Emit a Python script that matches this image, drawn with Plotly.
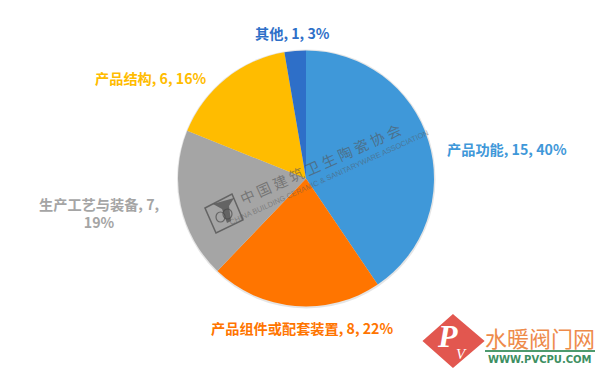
import plotly.graph_objects as go

categories = ["产品功能", "产品组件或配套装置", "生产工艺与装备", "产品结构", "其他"]
values = [15, 8, 7, 6, 1]
percents = [40, 22, 19, 16, 3]
colors = ["#3F98D9", "#FF7500", "#A5A5A5", "#FFBC00", "#2E6FC8"]

W, H = 600, 372
FONT = "Noto Sans CJK SC"

def px(x): return x / W
def py(y): return 1 - y / H

labels = [f"{c}, {v}, {p}%" for c, v, p in zip(categories, values, percents)]
labels[2] = f"{categories[2]}, {values[2]},<br>{percents[2]}%"
label_pos = [(507, 149), (302, 328), (98.5, 213), (151, 78), (292, 33)]

fig = go.Figure(go.Pie(
    labels=categories, values=values, sort=False, direction="clockwise", rotation=0,
    marker=dict(colors=colors, line=dict(width=0)),
    textinfo="none", hoverinfo="label+value+percent", showlegend=False,
    domain=dict(x=[px(178), px(434)], y=[py(307), py(50)]),
))

ann = []
for t, (x, y), c in zip(labels, label_pos, colors):
    ann.append(dict(text=f"<b>{t}</b>", x=px(x), y=py(y), xref="paper", yref="paper", showarrow=False,
                    font=dict(family=FONT, size=14.2, color=c), align="center", xanchor="center", yanchor="middle"))

# watermark
wm = "rgba(70,70,70,0.68)"
ann.append(dict(text="中 国 建 筑 卫 生 陶 瓷 协 会", x=px(320), y=py(163), xref="paper", yref="paper", showarrow=False,
                textangle=-24, font=dict(family=FONT, size=14.5, color="rgba(85,85,85,0.6)"), xanchor="center", yanchor="middle"))
ann.append(dict(text="CHINA BUILDING CERAMIC &amp; SANITARYWARE ASSOCIATION", x=px(329), y=py(177), xref="paper", yref="paper", showarrow=False,
                textangle=-24.5, font=dict(family="Liberation Sans", size=7.5, color="rgba(85,85,85,0.5)"), xanchor="center", yanchor="middle"))

# bottom-right site logo text
ann.append(dict(text="水暖阀门网", x=px(540), y=py(337), xref="paper", yref="paper", showarrow=False,
                font=dict(family=FONT, size=22, color="#EE8B4B"), xanchor="center", yanchor="middle"))
ann.append(dict(text="<b>WWW.PVCPU.COM</b>", x=px(540), y=py(359), xref="paper", yref="paper", showarrow=False,
                font=dict(family="DejaVu Sans", size=10, color="#3E8F62"), xanchor="center", yanchor="middle"))
ann.append(dict(text="<i><b>P</b></i>", x=px(447), y=py(336), xref="paper", yref="paper", showarrow=False,
                font=dict(family="Liberation Serif", size=32, color="white"), xanchor="center", yanchor="middle"))
ann.append(dict(text="<i>V</i>", x=px(461), y=py(354), xref="paper", yref="paper", showarrow=False,
                font=dict(family="Liberation Serif", size=15, color="white"), xanchor="center", yanchor="middle"))

def path(points):
    return "M " + " L ".join(f"{px(x)} {py(y)}" for x, y in points) + " Z"

shapes = [
    # soft rim round the pie
    dict(type="circle", xref="paper", yref="paper", layer="below",
         x0=px(177), x1=px(435.5), y0=py(308.5), y1=py(49.5), line=dict(width=0), fillcolor="rgba(0,0,0,0.10)"),
    # red rounded diamond
    dict(type="path", xref="paper", yref="paper", line=dict(color="#E2574F", width=6), fillcolor="#E2574F",
         path=path([(453, 318), (480, 341), (453, 364), (427, 341)])),
    # green rule under logo text
    dict(type="rect", xref="paper", yref="paper", x0=px(485), x1=px(595), y0=py(352), y1=py(350),
         line=dict(width=0), fillcolor="#4E9A6E"),
    # watermark emblem
    dict(type="path", xref="paper", yref="paper", line=dict(color=wm, width=1.5), fillcolor="rgba(0,0,0,0)",
         path=path([(205, 208), (232, 194), (243, 220), (216, 233)])),
    dict(type="path", xref="paper", yref="paper", line=dict(width=0), fillcolor=wm,
         path=path([(213, 204), (234, 198), (229, 206), (231, 221), (227, 223), (222, 209)])),
    dict(type="circle", xref="paper", yref="paper", x0=px(216), x1=px(225), y0=py(222), y1=py(212), line=dict(color=wm, width=1.2)),
    dict(type="circle", xref="paper", yref="paper", x0=px(223), x1=px(232), y0=py(219), y1=py(209), line=dict(color=wm, width=1.2)),
]

fig.update_layout(width=W, height=H, margin=dict(l=0, r=0, t=0, b=0),
                  paper_bgcolor="rgba(0,0,0,0)", annotations=ann, shapes=shapes)
fig.write_html("out.html", config=dict(displayModeBar=False),
               post_script="document.body.style.margin='0';document.body.style.overflow='hidden';")
